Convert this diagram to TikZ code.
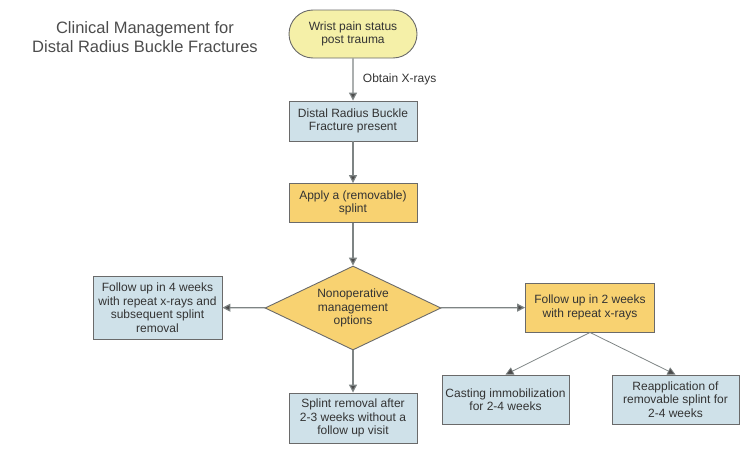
\documentclass[tikz,border=0pt]{standalone}
\usepackage{fontspec}
\setmainfont{Liberation Sans}
\usetikzlibrary{arrows.meta,shapes.geometric,shapes.misc}

\definecolor{pale}{HTML}{CFE1E9}
\definecolor{gold}{HTML}{F8D271}
\definecolor{lemon}{HTML}{F5F0A8}
\definecolor{edge}{HTML}{6A6A6A}
\definecolor{wire}{HTML}{7E8484}
\definecolor{ink}{HTML}{333333}

\tikzset{
  box/.style={draw=edge, line width=0.9pt, align=center, inner sep=1pt, text=ink,
    font=\fontsize{12}{13.5}\selectfont},
  bluebox/.style={box, fill=pale},
  goldbox/.style={box, fill=gold},
  flow/.style={draw=wire, line width=1.2pt, -{Triangle[length=8pt,width=8pt,fill=black!70]}},
  thin/.style={draw=wire, line width=0.8pt, -{Triangle[length=8pt,width=8pt,fill=black!70]}}
}

\begin{document}
\begin{tikzpicture}[x=1pt,y=-1pt]
    \useasboundingbox (0,0) rectangle (750,455);

    \node[text=black!70, align=center, font=\fontsize{16.5}{19}\selectfont]
      (title) at (145,37) {Clinical Management for\\Distal Radius Buckle Fractures};

    \node[box, fill=lemon, rounded rectangle, minimum width=130pt, minimum height=48pt]
      (pain) at (353,34) {Wrist pain status\\post trauma};
    \node[bluebox, minimum width=128pt, minimum height=40pt]
      (fracture) at (353,121) {Distal Radius Buckle\\Fracture present};
    \node[goldbox, minimum width=128pt, minimum height=39pt]
      (splint) at (353,203) {Apply a (removable)\\splint};
    \node[box, fill=gold, diamond, aspect=2.1, minimum width=176pt, minimum height=84pt, inner sep=0pt]
      (options) at (353,308) {};
    \node[text=ink, font=\fontsize{12}{13.5}\selectfont, align=center] at (options) {Nonoperative\\management\\options};
    \node[bluebox, minimum width=129pt, minimum height=63pt]
      (fourweeks) at (157.5,307.5) {Follow up in 4 weeks\\with repeat x-rays and\\subsequent splint\\removal};
    \node[goldbox, minimum width=129pt, minimum height=49pt]
      (twoweeks) at (590,307.5) {Follow up in 2 weeks\\with repeat x-rays};
    \node[bluebox, minimum width=128pt, minimum height=50pt]
      (removal) at (353,418) {Splint removal after\\2-3 weeks without a\\follow up visit};
    \node[bluebox, minimum width=127pt, minimum height=49pt]
      (casting) at (505.5,399.5) {Casting immobilization\\for 2-4 weeks};
    \node[bluebox, minimum width=127pt, minimum height=49pt]
      (reapply) at (675.5,399.5) {Reapplication of\\removable splint for\\2-4 weeks};

    \draw[flow] (pain) -- (fracture) node[midway, right=6pt, text=ink, font=\fontsize{12}{13.5}\selectfont] {Obtain X-rays};
    \draw[flow] (fracture) -- (splint);
    \draw[flow] (splint) -- (options);
    \draw[flow] (options) -- (fourweeks);
    \draw[flow] (options) -- (twoweeks);
    \draw[flow] (options) -- (removal);
    \draw[thin] (twoweeks.south) -- (casting.north);
    \draw[thin] (twoweeks.south) -- (reapply.north);
  \end{tikzpicture}
\end{document}
